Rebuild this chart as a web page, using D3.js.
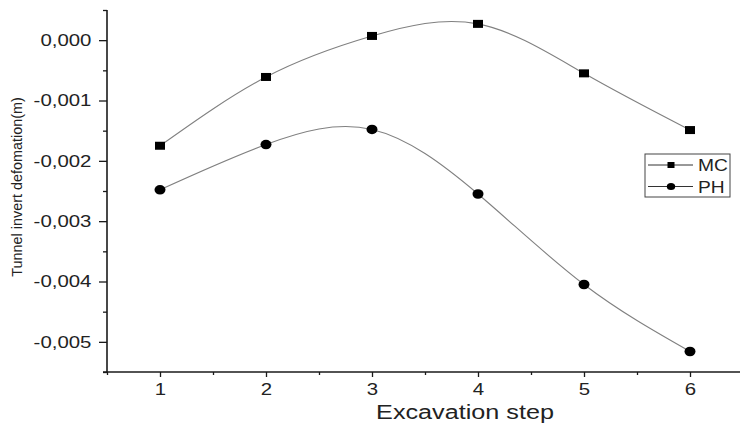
<!DOCTYPE html>
<html>
<head>
<meta charset="utf-8">
<script src="https://cdn.jsdelivr.net/npm/d3@7"></script>
<style>
  html, body { margin: 0; padding: 0; background: #fff; }
  svg { display: block; font-family: "Liberation Sans", Arial, sans-serif; }
</style>
</head>
<body>
<svg id="chart" width="740" height="424"></svg>
<script>
// ---- data ----
const steps = [1, 2, 3, 4, 5, 6];
const mcValues = [-0.00175, -0.00061, 0.00007, 0.00027, -0.00055, -0.00149];
const phValues = [-0.00248, -0.00173, -0.00148, -0.00255, -0.00405, -0.00516];
const seriesNames = ["MC", "PH"];
const yTickValues = [0, -0.001, -0.002, -0.003, -0.004, -0.005];
const yMinorValues = [0.0005, -0.0005, -0.0015, -0.0025, -0.0035, -0.0045, -0.0055];
const xTickValues = [1, 2, 3, 4, 5, 6];
const xMinorValues = [0.5, 1.5, 2.5, 3.5, 4.5, 5.5];
const xTitle = "Excavation step";
const yTitle = "Tunnel invert defomation(m)";

const svg = d3.select("#chart");
const x = d3.scaleLinear().domain([0.5, 6.5]).range([107, 743]);
const y = d3.scaleLinear().domain([-0.0055, 0.0005]).range([372, 10]);

const locale = d3.formatLocale({decimal: ",", thousands: ".", grouping: [3], currency: ["", ""], minus: "-"});
const fmt = locale.format(".3f");
const axisColor = "#1a1a1a";
const stretch = 1.2;

// curves
const line = d3.line().x(d => x(d[0])).y(d => y(d[1])).curve(d3.curveNatural);
const mcData = steps.map((s, i) => [s, mcValues[i]]);
const phData = steps.map((s, i) => [s, phValues[i]]);
[mcData, phData].forEach(data => {
  svg.append("path").datum(data).attr("d", line)
    .attr("fill", "none").attr("stroke", "#808080").attr("stroke-width", 1.1);
});

// markers
svg.append("g").selectAll("rect").data(mcData).join("rect")
  .attr("x", d => x(d[0]) - 5).attr("y", d => y(d[1]) - 4)
  .attr("width", 10).attr("height", 8).attr("fill", "#000");
svg.append("g").selectAll("ellipse").data(phData).join("ellipse")
  .attr("cx", d => x(d[0])).attr("cy", d => y(d[1]))
  .attr("rx", 5.5).attr("ry", 4.8).attr("fill", "#000");

// y axis
const yAxisG = svg.append("g").attr("transform", "translate(107,0)");
yAxisG.append("g").call(d3.axisLeft(y).tickValues(yMinorValues).tickSize(4).tickSizeOuter(0).tickFormat(""))
  .call(g => g.select(".domain").remove());
yAxisG.append("g").call(d3.axisLeft(y).tickValues(yTickValues).tickSize(8).tickPadding(5).tickSizeOuter(0).tickFormat(fmt))
  .call(g => g.select(".domain").remove())
  .call(g => g.selectAll("text").attr("font-size", 17).attr("fill", "#222")
    .attr("font-family", "Liberation Sans, Arial, sans-serif")
    .attr("transform", `scale(${stretch},1)`));
yAxisG.selectAll(".tick line").attr("stroke", axisColor).attr("stroke-width", 1.3);

// x axis
const xAxisG = svg.append("g").attr("transform", "translate(0,372)");
xAxisG.append("g").call(d3.axisBottom(x).tickValues(xMinorValues).tickSize(3).tickSizeOuter(0).tickFormat(""))
  .call(g => g.select(".domain").remove());
xAxisG.append("g").call(d3.axisBottom(x).tickValues(xTickValues).tickSize(5).tickPadding(6).tickSizeOuter(0).tickFormat(d3.format("d")))
  .call(g => g.select(".domain").remove())
  .call(g => g.selectAll("text").attr("font-size", 17).attr("fill", "#222")
    .attr("font-family", "Liberation Sans, Arial, sans-serif")
    .attr("transform", `scale(${stretch},1)`)
    .attr("x", function() { return 0; }));
xAxisG.selectAll(".tick line").attr("stroke", axisColor).attr("stroke-width", 1.3);

// axis lines
svg.append("line").attr("x1", 107).attr("x2", 107).attr("y1", y.range()[1]).attr("y2", 372)
  .attr("stroke", axisColor).attr("stroke-width", 1.6);
svg.append("line").attr("x1", 103).attr("x2", 743).attr("y1", 372).attr("y2", 372)
  .attr("stroke", axisColor).attr("stroke-width", 1.6);

// titles
svg.append("text").attr("transform", `translate(465,419) scale(${stretch},1)`)
  .attr("text-anchor", "middle").attr("font-size", 21).attr("fill", "#222").text(xTitle);
svg.append("text").attr("transform", "translate(22,187) rotate(-90)")
  .attr("text-anchor", "middle").attr("font-size", 14.4).attr("fill", "#222").text(yTitle);

// legend
const leg = svg.append("g");
leg.append("rect").attr("x", 645).attr("y", 154).attr("width", 85).attr("height", 43)
  .attr("fill", "#fff").attr("stroke", "#444").attr("stroke-width", 1);
seriesNames.forEach((name, i) => {
  const cy = 165 + i * 21.5;
  leg.append("line").attr("x1", 648).attr("x2", 693).attr("y1", cy).attr("y2", cy)
    .attr("stroke", "#333").attr("stroke-width", 1);
  if (i === 0) {
    leg.append("rect").attr("x", 671 - 3.5).attr("y", cy - 3).attr("width", 7).attr("height", 6).attr("fill", "#000");
  } else {
    leg.append("ellipse").attr("cx", 671).attr("cy", cy).attr("rx", 4.2).attr("ry", 3.6).attr("fill", "#000");
  }
  leg.append("text").attr("transform", `translate(698,${cy + 6}) scale(${stretch},1)`)
    .attr("font-size", 16).attr("fill", "#222").text(name);
});
</script>
</body>
</html>
